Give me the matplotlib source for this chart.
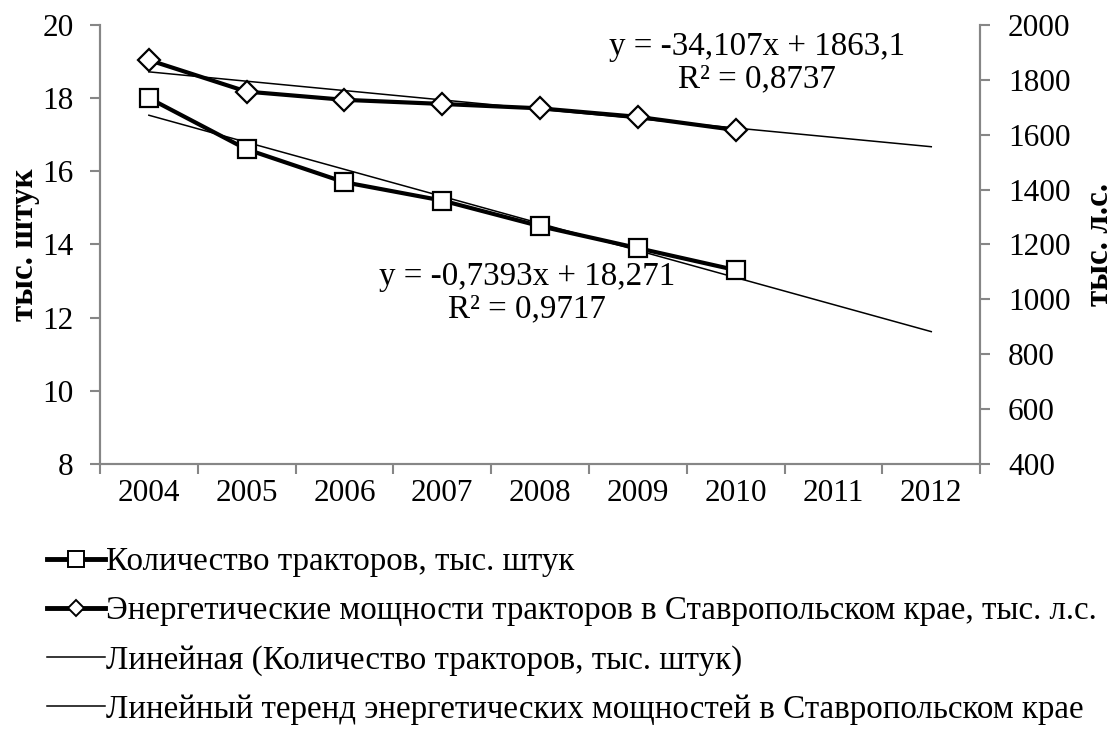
import numpy as np
import matplotlib.pyplot as plt
from matplotlib.lines import Line2D

years = ['2004', '2005', '2006', '2007', '2008', '2009', '2010', '2011', '2012']
tractors = [18.0, 16.6, 15.7, 15.2, 14.5, 13.9, 13.3]
power = [1872, 1757, 1727, 1712, 1696, 1665, 1617]

# trend equations as printed on the chart
tr_slope, tr_intercept = -0.7393, 18.271
pw_slope, pw_intercept = -34.107, 1863.1

plt.rcParams['font.family'] = ['Liberation Serif', 'DejaVu Serif']
fs = 22.5
fl = 23.8
grey = '#868686'

fig = plt.figure(figsize=(11.17, 7.33), dpi=100)
ax = fig.add_axes([0.0895, 0.367, 0.788, 0.599])
ax2 = ax.twinx()

x = np.arange(len(tractors))
xt = np.arange(len(years))
ax.plot(xt, tr_intercept + tr_slope * (xt + 1), color='black', lw=1.1, zorder=2)
ax.plot(x, tractors, color='black', lw=3, marker='s', ms=13.5,
        mfc='white', mec='black', mew=1.6, zorder=3)
ax2.plot(xt, pw_intercept + pw_slope * (xt + 1), color='black', lw=1.1, zorder=2)
ax2.plot(x, power, color='black', lw=3, marker='D', ms=11,
         mfc='white', mec='black', mew=1.6, zorder=3)

ax.set_xlim(-0.5, len(years) - 0.5)
ax.set_ylim(8, 20)
ax.set_yticks(np.arange(8, 21, 2))
ax2.set_ylim(400, 2000)
ax2.set_yticks(np.arange(400, 2001, 200))

ax.set_xticks(np.arange(-0.5, len(years), 1))
ax.set_xticklabels([])
ax.set_xticks(xt, minor=True)
ax.set_xticklabels(years, minor=True)
ax.tick_params(axis='x', which='minor', length=0, pad=11, labelsize=fs)
ax.tick_params(axis='x', which='major', length=7, direction='out', color=grey, width=1.5)
ax.tick_params(axis='y', length=7, direction='out', color=grey, width=1.5, labelsize=fs, pad=12)
ax2.tick_params(axis='y', length=7, direction='out', color=grey, width=1.5, labelsize=fs, pad=13)

for a in (ax, ax2):
    a.spines['top'].set_visible(False)
    for s in ('left', 'right', 'bottom'):
        a.spines[s].set_color(grey)
        a.spines[s].set_linewidth(1.5)

ax.set_ylabel('тыс. штук', fontsize=fl, fontweight='bold', labelpad=2)
ax2.set_ylabel('тыс. л.с.', fontsize=fl, fontweight='bold', rotation=90, labelpad=10)

ax.text(6.22, 18.96, 'y = -34,107x + 1863,1\nR² = 0,8737', fontsize=fl,
        ha='center', va='center', linespacing=1.1)
ax.text(3.87, 12.68, 'y = -0,7393x + 18,271\nR² = 0,9717', fontsize=fl,
        ha='center', va='center', linespacing=1.1)

handles = [
    Line2D([], [], color='black', lw=3.5, marker='s', ms=11, mfc='white', mec='black', mew=1.4),
    Line2D([], [], color='black', lw=3.5, marker='D', ms=8, mfc='white', mec='black', mew=1.4),
    Line2D([], [], color='black', lw=1.1),
    Line2D([], [], color='black', lw=1.1),
]
labels = [
    'Количество тракторов, тыс. штук',
    'Энергетические мощности тракторов в Ставропольском крае, тыс. л.с.',
    'Линейная (Количество тракторов, тыс. штук)',
    'Линейный теренд энергетических мощностей в Ставропольском крае',
]
fig.legend(handles, labels, loc='upper left', bbox_to_anchor=(0.03, 0.272),
           frameon=False, fontsize=fl, handlelength=1.75, handletextpad=0.05,
           labelspacing=0.56, borderaxespad=0)

fig.savefig('out.png', dpi=100)
